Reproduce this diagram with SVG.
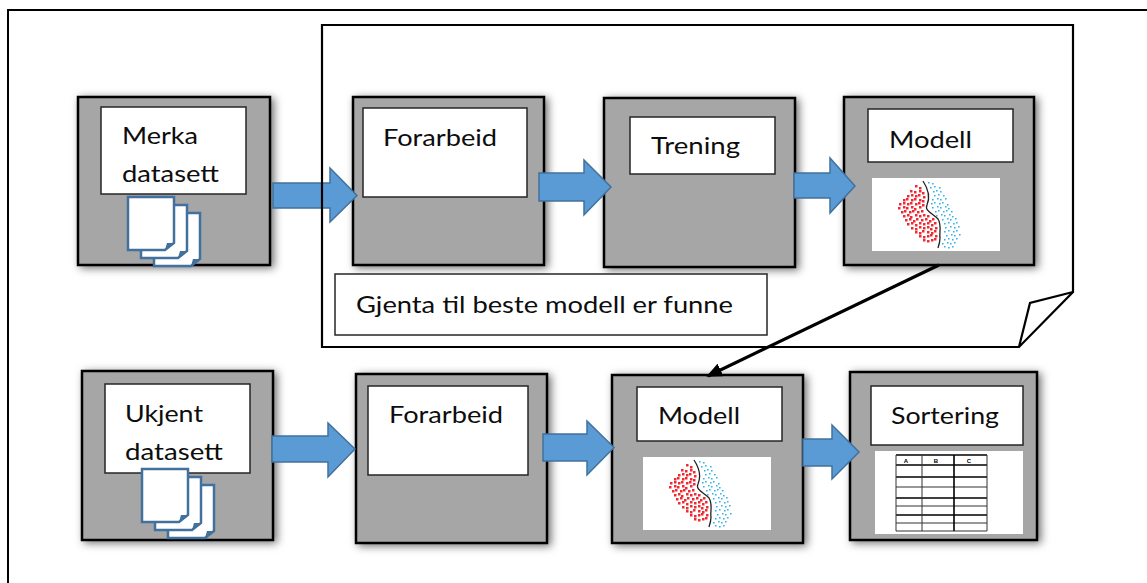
<svg xmlns="http://www.w3.org/2000/svg" xmlns:xlink="http://www.w3.org/1999/xlink" width="1147" height="583" viewBox="0 0 1147 583">
<style>
.box{fill:#A6A6A6;stroke:#000;stroke-width:2.5;filter:url(#sh)}
.inner{fill:#fff;stroke:#262626;stroke-width:1.5}
.lbl{font-family:Lato,"Liberation Sans",sans-serif;font-size:24px;fill:#0d0d0d}
.blk{fill:#5B9BD5;stroke:#41719C;stroke-width:1.5;stroke-linejoin:miter}
.page{fill:#fff;stroke:#41719C;stroke-width:2.5}
.fold{fill:#41719C}
.tl{stroke:#333;stroke-width:1}
.tlb{stroke:#000;stroke-width:1.6}
.th{font-family:"Liberation Sans",sans-serif;font-size:6px;font-weight:bold;fill:#000;text-anchor:middle}
</style>
<defs>
<filter id="sh" x="-20%" y="-20%" width="140%" height="140%">
<feDropShadow dx="3" dy="2" stdDeviation="4" flood-color="#000" flood-opacity="0.55"/>
</filter>
<marker id="ah" markerUnits="userSpaceOnUse" markerWidth="16" markerHeight="14" refX="14" refY="7" orient="auto">
<path d="M0 0 L16 7 L0 14 Z" fill="#000"/>
</marker>
<path id="note" d="M322 25 H1073 V292 L1019 347 H322 Z"/>
<g id="page">
<path class="page" d="M0 0 H46 V46 L37 53 H0 Z"/>
<path class="fold" d="M37 53 L39 46 L46 46 Z"/>
</g>
<g id="docs">
<use xlink:href="#page" transform="translate(26 16)"/>
<use xlink:href="#page" transform="translate(13 8)"/>
<use xlink:href="#page"/>
</g>
<g id="scatter">
<rect x="0" y="0" width="128" height="73" fill="#fff"/>
<path fill="#EE2A33" d="M43 7h2.5v2.5h-2.5zM47 9h2.5v2.5h-2.5zM38 12h2.5v2.5h-2.5zM42 13h2.5v2.5h-2.5zM47 12h2.5v2.5h-2.5zM50 14h2.5v2.5h-2.5zM35 17h2.5v2.5h-2.5zM39 16h2.5v2.5h-2.5zM43 17h2.5v2.5h-2.5zM46 16h2.5v2.5h-2.5zM51 18h2.5v2.5h-2.5zM31 21h2.5v2.5h-2.5zM34 20h2.5v2.5h-2.5zM39 21h2.5v2.5h-2.5zM42 20h2.5v2.5h-2.5zM47 21h2.5v2.5h-2.5zM50 22h2.5v2.5h-2.5zM27 25h2.5v2.5h-2.5zM31 24h2.5v2.5h-2.5zM35 25h2.5v2.5h-2.5zM38 24h2.5v2.5h-2.5zM43 25h2.5v2.5h-2.5zM46 24h2.5v2.5h-2.5zM50 26h2.5v2.5h-2.5zM26 29h2.5v2.5h-2.5zM31 28h2.5v2.5h-2.5zM34 29h2.5v2.5h-2.5zM39 28h2.5v2.5h-2.5zM42 30h2.5v2.5h-2.5zM47 28h2.5v2.5h-2.5zM29 33h2.5v2.5h-2.5zM32 32h2.5v2.5h-2.5zM37 33h2.5v2.5h-2.5zM40 32h2.5v2.5h-2.5zM45 33h2.5v2.5h-2.5zM49 32h2.5v2.5h-2.5zM31 37h2.5v2.5h-2.5zM35 36h2.5v2.5h-2.5zM38 38h2.5v2.5h-2.5zM43 36h2.5v2.5h-2.5zM47 37h2.5v2.5h-2.5zM51 36h2.5v2.5h-2.5zM55 37h2.5v2.5h-2.5zM33 41h2.5v2.5h-2.5zM37 40h2.5v2.5h-2.5zM41 42h2.5v2.5h-2.5zM44 40h2.5v2.5h-2.5zM49 41h2.5v2.5h-2.5zM53 40h2.5v2.5h-2.5zM57 42h2.5v2.5h-2.5zM60 40h2.5v2.5h-2.5zM35 45h2.5v2.5h-2.5zM39 44h2.5v2.5h-2.5zM43 46h2.5v2.5h-2.5zM47 44h2.5v2.5h-2.5zM51 45h2.5v2.5h-2.5zM55 44h2.5v2.5h-2.5zM59 46h2.5v2.5h-2.5zM62 44h2.5v2.5h-2.5zM39 49h2.5v2.5h-2.5zM43 50h2.5v2.5h-2.5zM47 48h2.5v2.5h-2.5zM51 49h2.5v2.5h-2.5zM55 48h2.5v2.5h-2.5zM58 50h2.5v2.5h-2.5zM63 49h2.5v2.5h-2.5zM43 53h2.5v2.5h-2.5zM47 54h2.5v2.5h-2.5zM50 52h2.5v2.5h-2.5zM55 53h2.5v2.5h-2.5zM59 54h2.5v2.5h-2.5zM62 52h2.5v2.5h-2.5zM47 57h2.5v2.5h-2.5zM51 58h2.5v2.5h-2.5zM55 57h2.5v2.5h-2.5zM58 56h2.5v2.5h-2.5zM63 57h2.5v2.5h-2.5zM51 61h2.5v2.5h-2.5zM55 62h2.5v2.5h-2.5zM59 61h2.5v2.5h-2.5zM62 60h2.5v2.5h-2.5z"/>
<path fill="#35B2EA" d="M56 4h1.6v1.6h-1.6zM60 5h1.6v1.6h-1.6zM58 9h1.6v1.6h-1.6zM62 8h1.6v1.6h-1.6zM67 9h1.6v1.6h-1.6zM61 13h1.6v1.6h-1.6zM64 12h1.6v1.6h-1.6zM68 13h1.6v1.6h-1.6zM62 17h1.6v1.6h-1.6zM66 16h1.6v1.6h-1.6zM71 17h1.6v1.6h-1.6zM60 21h1.6v1.6h-1.6zM65 20h1.6v1.6h-1.6zM68 21h1.6v1.6h-1.6zM73 20h1.6v1.6h-1.6zM59 25h1.6v1.6h-1.6zM62 24h1.6v1.6h-1.6zM67 25h1.6v1.6h-1.6zM70 24h1.6v1.6h-1.6zM75 26h1.6v1.6h-1.6zM60 29h1.6v1.6h-1.6zM65 28h1.6v1.6h-1.6zM68 29h1.6v1.6h-1.6zM73 28h1.6v1.6h-1.6zM76 30h1.6v1.6h-1.6zM63 33h1.6v1.6h-1.6zM66 32h1.6v1.6h-1.6zM71 33h1.6v1.6h-1.6zM74 32h1.6v1.6h-1.6zM79 33h1.6v1.6h-1.6zM64 37h1.6v1.6h-1.6zM69 36h1.6v1.6h-1.6zM72 37h1.6v1.6h-1.6zM77 36h1.6v1.6h-1.6zM80 38h1.6v1.6h-1.6zM70 41h1.6v1.6h-1.6zM75 40h1.6v1.6h-1.6zM78 41h1.6v1.6h-1.6zM83 40h1.6v1.6h-1.6zM72 45h1.6v1.6h-1.6zM76 44h1.6v1.6h-1.6zM81 45h1.6v1.6h-1.6zM84 44h1.6v1.6h-1.6zM73 49h1.6v1.6h-1.6zM78 48h1.6v1.6h-1.6zM82 49h1.6v1.6h-1.6zM86 48h1.6v1.6h-1.6zM72 53h1.6v1.6h-1.6zM76 52h1.6v1.6h-1.6zM81 53h1.6v1.6h-1.6zM84 52h1.6v1.6h-1.6zM74 57h1.6v1.6h-1.6zM79 56h1.6v1.6h-1.6zM82 57h1.6v1.6h-1.6zM87 56h1.6v1.6h-1.6zM72 61h1.6v1.6h-1.6zM76 60h1.6v1.6h-1.6zM80 61h1.6v1.6h-1.6zM84 60h1.6v1.6h-1.6zM70 65h1.6v1.6h-1.6zM75 64h1.6v1.6h-1.6zM78 65h1.6v1.6h-1.6zM82 64h1.6v1.6h-1.6zM72 68h1.6v1.6h-1.6zM76 69h1.6v1.6h-1.6zM80 68h1.6v1.6h-1.6z"/>
<path d="M51 3 C57 12 58 20 55 27 C52 33 62 36 66 41 C70 47 67 55 68 60 C68 64 67 67 66 70" fill="none" stroke="#222" stroke-width="1.3"/>
</g>
</defs>

<rect id="frame" x="8" y="10" width="1150" height="600" fill="none" stroke="#000" stroke-width="2"/>

<g id="loop">
<use xlink:href="#note" fill="#fff" stroke="none"/>
</g>

<g id="node-merka">
<rect class="box" x="78" y="97" width="192" height="168"/>
<rect class="inner" x="101" y="107" width="145" height="87"/>
<text class="lbl" x="122" y="144" textLength="76" lengthAdjust="spacingAndGlyphs">Merka</text>
<text class="lbl" x="122" y="182" textLength="97" lengthAdjust="spacingAndGlyphs">datasett</text>
<use xlink:href="#docs" transform="translate(128 197)"/>
</g>

<g id="node-forarbeid1">
<rect class="box" x="353" y="97" width="191" height="168"/>
<rect class="inner" x="363" y="108" width="164" height="89"/>
<text class="lbl" x="383" y="146" textLength="114" lengthAdjust="spacingAndGlyphs">Forarbeid</text>
</g>

<g id="node-trening">
<rect class="box" x="604" y="98" width="191" height="169"/>
<rect class="inner" x="630" y="117" width="145" height="57"/>
<text class="lbl" x="651" y="154" textLength="89" lengthAdjust="spacingAndGlyphs">Trening</text>
</g>

<g id="node-modell1">
<rect class="box" x="844" y="97" width="190" height="168"/>
<rect class="inner" x="868" y="109" width="145" height="53"/>
<text class="lbl" x="889" y="148" textLength="83" lengthAdjust="spacingAndGlyphs">Modell</text>
<use xlink:href="#scatter" transform="translate(872 178)"/>
</g>

<g id="note-label">
<rect class="inner" x="335" y="274" width="432" height="61"/>
<text class="lbl" x="356" y="313" textLength="377" lengthAdjust="spacingAndGlyphs">Gjenta til beste modell er funne</text>
</g>

<g id="node-ukjent">
<rect class="box" x="82" y="371" width="191" height="169"/>
<rect class="inner" x="105" y="384" width="145" height="89"/>
<text class="lbl" x="125" y="422" textLength="78" lengthAdjust="spacingAndGlyphs">Ukjent</text>
<text class="lbl" x="125" y="460" textLength="98" lengthAdjust="spacingAndGlyphs">datasett</text>
<use xlink:href="#docs" transform="translate(142 469)"/>
</g>

<g id="node-forarbeid2">
<rect class="box" x="356" y="374" width="191" height="169"/>
<rect class="inner" x="368" y="386" width="160" height="89"/>
<text class="lbl" x="389" y="423" textLength="114" lengthAdjust="spacingAndGlyphs">Forarbeid</text>
</g>

<g id="node-modell2">
<rect class="box" x="612" y="375" width="191" height="168"/>
<rect class="inner" x="637" y="387" width="145" height="54"/>
<text class="lbl" x="658" y="424" textLength="82" lengthAdjust="spacingAndGlyphs">Modell</text>
<use xlink:href="#scatter" transform="translate(643 457)"/>
</g>

<g id="node-sortering">
<rect class="box" x="850" y="372" width="187" height="168"/>
<rect class="inner" x="871" y="386" width="152" height="59"/>
<text class="lbl" x="891" y="424" textLength="108" lengthAdjust="spacingAndGlyphs">Sortering</text>
<rect x="875" y="451" width="148" height="83" fill="#fff"/>
<g>
<line class="tlb" x1="896" y1="455" x2="987" y2="455"/>
<line class="tlb" x1="896" y1="465" x2="987" y2="465"/>
<line class="tlb" x1="896" y1="477" x2="987" y2="477"/>
<line class="tl" x1="896" y1="487" x2="987" y2="487"/>
<line class="tlb" x1="896" y1="498" x2="987" y2="498"/>
<line class="tl" x1="896" y1="506" x2="987" y2="506"/>
<line class="tlb" x1="896" y1="515" x2="987" y2="515"/>
<line class="tl" x1="896" y1="523" x2="987" y2="523"/>
<line class="tl" x1="896" y1="531" x2="987" y2="531"/>
<line class="tl" x1="896" y1="455" x2="896" y2="531"/>
<line class="tl" x1="922" y1="455" x2="922" y2="531"/>
<line class="tlb" x1="954" y1="455" x2="954" y2="531"/>
<line class="tl" x1="987" y1="455" x2="987" y2="531"/>
<text class="th" x="906" y="463">A</text>
<text class="th" x="936" y="463">B</text>
<text class="th" x="969" y="463">C</text>
</g>
</g>

<g id="connectors">
<path class="blk" d="M273 183 H330 V168 L357 195.5 L330 222 V208 H273 Z"/>
<path class="blk" d="M539 173 H584 V160 L611 187 L584 215 V201 H539 Z"/>
<path class="blk" d="M794 173 H830 V158 L855 186 L830 213 V198 H794 Z"/>
<path class="blk" d="M272 436 H328 V423 L355 449 L328 477 V462 H272 Z"/>
<path class="blk" d="M543 434 H587 V421 L614 447.5 L587 475 V461 H543 Z"/>
<path class="blk" d="M803 439 H832 V425 L859 452 L832 479 V466 H803 Z"/>
<line x1="939" y1="265" x2="708" y2="376" stroke="#000" stroke-width="3.2" marker-end="url(#ah)"/>
</g>

<g id="loop-outline">
<use xlink:href="#note" fill="none" stroke="#000" stroke-width="2.2"/>
<path d="M1073 292 L1030 303 L1019 347" fill="none" stroke="#000" stroke-width="2.2" stroke-linejoin="miter"/>
</g>
</svg>
